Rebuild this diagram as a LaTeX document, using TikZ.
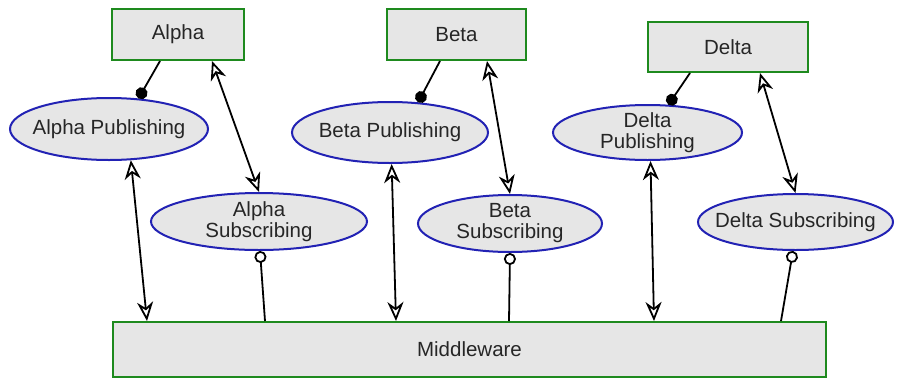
\documentclass[tikz,border=0pt]{standalone}
\usepackage{fontspec}
\setmainfont{Liberation Sans}
\usetikzlibrary{arrows.meta,shapes.geometric}
\definecolor{boxfill}{HTML}{E6E6E6}
\definecolor{boxline}{HTML}{1E8A1E}
\definecolor{ovalline}{HTML}{2222B4}
\tikzset{
	comp/.style={draw=boxline, fill=boxfill, line width=2pt, inner sep=0pt},
	iface/.style={ellipse, draw=ovalline, fill=boxfill, line width=2pt, inner xsep=-20pt, inner ysep=-8pt, align=center},
	link/.style={line width=1.8pt},
	both/.style={link, {Stealth[open,length=19pt,width=16pt,inset=6pt]}-{Stealth[open,length=19pt,width=16pt,inset=6pt]}},
	pub/.style={link, -{Circle[length=12pt]}},
	sub/.style={link, {Circle[open,length=12pt]}-}
}
\begin{document}
\begin{tikzpicture}[x=1pt, y=-1pt, font=\fontsize{20.5}{21}\selectfont, text=black!85]

	\useasboundingbox (0,0) rectangle (899,378);

	\node[comp, minimum width=132pt, minimum height=51pt] (alpha) at (178,34.5) {Alpha};
	\node[comp, minimum width=139pt, minimum height=51pt] (beta) at (456.5,34.5) {Beta};
	\node[comp, minimum width=160pt, minimum height=50pt] (delta) at (728,47) {Delta};
	\node[comp, minimum width=713pt, minimum height=55pt] (mw) at (469.5,349.5) {Middleware};

	\node[iface, minimum width=198pt, minimum height=62pt] (apub) at (109,129) {Alpha Publishing};
	\node[iface, minimum width=216pt, minimum height=57pt] (asub) at (259,221.5) {Alpha\\Subscribing};
	\node[iface, minimum width=196pt, minimum height=61pt] (bpub) at (390,132.5) {Beta Publishing};
	\node[iface, minimum width=184pt, minimum height=57pt] (bsub) at (510,223.5) {Beta\\Subscribing};
	\node[iface, minimum width=189pt, minimum height=55pt] (dpub) at (647.5,132.5) {Delta\\Publishing};
	\node[iface, minimum width=195pt, minimum height=56pt] (dsub) at (795.5,222) {Delta Subscribing};

	\draw[pub] ([xshift=-18]alpha.south) -- (apub.46);
	\draw[both] ([xshift=34]alpha.south) -- (asub.north);
	\draw[both] (apub.-55) -- ([xshift=35]mw.north west);
	\draw[sub] (asub.-88) -- ([xshift=153]mw.north west);

	\draw[pub] ([xshift=-16.5]beta.south) -- (bpub.47);
	\draw[both] ([xshift=30.5]beta.south) -- (bsub.north);
	\draw[both] (bpub.-87) -- ([xshift=284]mw.north west);
	\draw[sub] (bsub.south) -- ([xshift=397]mw.north west);

	\draw[pub] ([xshift=-38]delta.south) -- (dpub.53);
	\draw[both] ([xshift=32]delta.south) -- (dsub.north);
	\draw[both] (dpub.-84) -- ([xshift=542]mw.north west);
	\draw[sub] (dsub.-95) -- ([xshift=669]mw.north west);

\end{tikzpicture}
\end{document}
